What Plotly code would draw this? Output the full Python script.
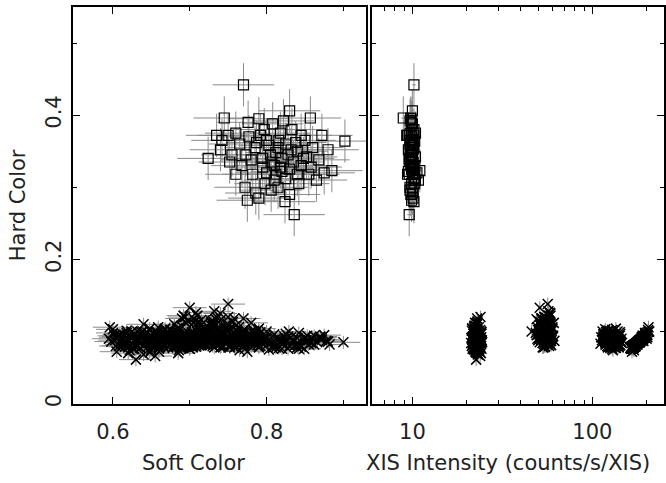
import plotly.graph_objects as go

# ---------------- data ----------------
# Square points (hard state)
sq_soft = [0.770, 0.724, 0.836, 0.902, 0.880, 0.745, 0.830, 0.857, 0.776, 0.750,
           0.760, 0.740, 0.755, 0.772, 0.775, 0.790, 0.810, 0.830, 0.865, 0.875,
           0.885, 0.855, 0.845, 0.820, 0.805, 0.815, 0.825, 0.800, 0.792, 0.785,
           0.795, 0.810, 0.820, 0.835, 0.840, 0.850, 0.860, 0.845, 0.833, 0.818,
           0.808, 0.790, 0.765, 0.780, 0.800, 0.825, 0.840, 0.815, 0.798, 0.782,
           0.768, 0.760, 0.752, 0.735, 0.742, 0.812, 0.828, 0.803, 0.787, 0.838,
           0.852, 0.868, 0.872, 0.822, 0.797, 0.777, 0.806, 0.818, 0.830, 0.842,
           0.812, 0.795, 0.773, 0.816, 0.832, 0.848, 0.858, 0.786, 0.806, 0.824]
sq_hard = [0.442, 0.340, 0.262, 0.364, 0.352, 0.396, 0.406, 0.396, 0.390, 0.372,
           0.375, 0.352, 0.345, 0.300, 0.282, 0.285, 0.310, 0.290, 0.310, 0.320,
           0.323, 0.318, 0.330, 0.340, 0.345, 0.355, 0.360, 0.365, 0.372, 0.355,
           0.340, 0.330, 0.322, 0.335, 0.350, 0.365, 0.355, 0.372, 0.380, 0.375,
           0.388, 0.395, 0.360, 0.338, 0.320, 0.312, 0.318, 0.300, 0.305, 0.318,
           0.330, 0.318, 0.335, 0.372, 0.365, 0.348, 0.345, 0.358, 0.362, 0.362,
           0.342, 0.338, 0.372, 0.392, 0.380, 0.370, 0.335, 0.328, 0.325, 0.305,
           0.318, 0.328, 0.345, 0.365, 0.352, 0.340, 0.328, 0.292, 0.296, 0.280]
sq_rate = [10.2, 9.6, 9.6, 10.3, 10.1, 8.9, 10.0, 9.8, 9.9, 9.4,
           9.7, 9.5, 10.0, 9.7, 9.9, 10.1, 10.4, 9.8, 10.8, 10.6,
           11.0, 10.2, 10.0, 9.9, 9.8, 10.1, 9.7, 10.0, 9.6, 10.2,
           9.9, 10.3, 9.5, 10.1, 9.8, 10.0, 9.7, 10.2, 9.9, 10.4,
           10.0, 9.8, 10.1, 9.6, 10.0, 10.2, 9.4, 10.1, 9.9, 10.3,
           9.8, 10.0, 9.9, 9.3, 9.7, 10.0, 9.9, 10.1, 9.8, 10.0,
           10.4, 9.9, 10.1, 9.7, 10.2, 9.9, 9.7, 10.0, 9.9, 10.3,
           9.6, 10.1, 10.0, 9.9, 10.0, 9.8, 10.1, 10.0, 9.7, 10.2]

# Cross points (soft state), four intensity groups
x22_soft = [0.63, 0.64, 0.66, 0.68, 0.70, 0.72, 0.74, 0.76, 0.78, 0.80,
            0.82, 0.84, 0.86, 0.88, 0.90, 0.65, 0.67, 0.69, 0.71, 0.73,
            0.75, 0.77, 0.79, 0.81, 0.83, 0.85, 0.87, 0.62, 0.645, 0.675,
            0.705, 0.735, 0.765, 0.795, 0.825, 0.855, 0.64, 0.70, 0.76, 0.82,
            0.66, 0.72, 0.78, 0.84, 0.875,
            0.615, 0.628, 0.642, 0.655, 0.668, 0.682, 0.695, 0.708, 0.722, 0.735,
            0.748, 0.762, 0.775, 0.788, 0.802, 0.815, 0.828, 0.842, 0.855, 0.868,
            0.632, 0.658, 0.685, 0.712, 0.738, 0.765, 0.792, 0.818, 0.845, 0.872,
            0.648, 0.675, 0.702, 0.728, 0.755, 0.782, 0.808, 0.835, 0.862, 0.882,
            0.641, 0.653, 0.667, 0.679, 0.691, 0.703, 0.717, 0.729, 0.741, 0.753,
            0.767, 0.779, 0.791, 0.803, 0.817, 0.829, 0.841, 0.853, 0.659, 0.687,
            0.713, 0.739, 0.769, 0.797, 0.823, 0.849, 0.671, 0.733, 0.787, 0.811]
x22_hard = [0.061, 0.068, 0.072, 0.080, 0.090, 0.098, 0.104, 0.094, 0.086, 0.092,
            0.088, 0.084, 0.090, 0.086, 0.085, 0.075, 0.085, 0.095, 0.108, 0.112,
            0.100, 0.082, 0.078, 0.096, 0.080, 0.092, 0.093, 0.070, 0.090, 0.102,
            0.118, 0.088, 0.074, 0.088, 0.097, 0.082, 0.110, 0.076, 0.090, 0.076,
            0.095, 0.082, 0.100, 0.078, 0.095,
            0.084, 0.076, 0.097, 0.066, 0.104, 0.088, 0.112, 0.079, 0.093, 0.120,
            0.085, 0.101, 0.072, 0.095, 0.083, 0.090, 0.076, 0.098, 0.088, 0.091,
            0.100, 0.082, 0.070, 0.094, 0.106, 0.087, 0.099, 0.085, 0.079, 0.089,
            0.071, 0.092, 0.084, 0.114, 0.096, 0.091, 0.080, 0.086, 0.094, 0.082,
            0.095, 0.081, 0.102, 0.088, 0.077, 0.099, 0.086, 0.093, 0.079, 0.104,
            0.091, 0.084, 0.097, 0.075, 0.089, 0.100, 0.082, 0.094, 0.106, 0.078,
            0.090, 0.083, 0.097, 0.087, 0.093, 0.076, 0.084, 0.108, 0.092, 0.085]
x22_rate = [22.6, 23.1, 22.4, 22.9, 23.3, 22.7, 22.2, 23.0, 22.5, 22.8,
            23.4, 22.3, 22.9, 22.6, 23.1, 22.0, 22.7, 23.5, 22.4, 22.8,
            23.0, 22.5, 21.8, 23.2, 22.9, 22.3, 22.6, 23.0, 22.7, 22.1,
            22.9, 23.6, 22.4, 22.8, 23.3, 22.5, 22.9, 21.9, 23.1, 22.6,
            22.3, 23.2, 22.7, 22.5, 23.0,
            21.2, 24.2, 22.0, 23.8, 21.5, 24.0, 22.3, 23.6, 21.8, 23.9,
            24.4, 21.4, 23.7, 22.1, 24.1, 21.7, 23.5, 22.2, 24.3, 21.3,
            23.3, 21.6, 24.0, 22.4, 23.4, 21.9, 24.2, 22.0, 23.8, 21.5,
            22.6, 24.1, 21.7, 23.0, 22.2, 23.7, 21.4, 24.3, 22.8, 21.9,
            22.9, 21.6, 23.8, 22.2, 23.4, 21.9, 24.0, 22.5, 23.1, 21.5,
            23.9, 22.7, 21.8, 23.5, 22.4, 24.1, 21.7, 23.2, 22.0, 23.7,
            21.4, 22.8, 24.2, 22.3, 23.0, 21.6, 23.6, 22.1, 23.3, 21.8]

x55_soft = [0.700, 0.750, 0.680, 0.690, 0.710, 0.720, 0.730, 0.740, 0.760, 0.770,
            0.780, 0.790, 0.800, 0.665, 0.675, 0.685, 0.695, 0.705, 0.715, 0.725,
            0.735, 0.745, 0.755, 0.765, 0.775, 0.785, 0.795, 0.700, 0.720, 0.740,
            0.760, 0.780, 0.710, 0.730, 0.750, 0.770, 0.690, 0.725, 0.745, 0.765,
            0.705, 0.735, 0.755, 0.715, 0.680,
            0.672, 0.684, 0.696, 0.708, 0.718, 0.728, 0.738, 0.748, 0.758, 0.768,
            0.778, 0.788, 0.798, 0.678, 0.692, 0.704, 0.714, 0.724, 0.734, 0.744,
            0.754, 0.764, 0.774, 0.784, 0.794, 0.688, 0.702, 0.716, 0.732, 0.746,
            0.762, 0.776, 0.790, 0.698, 0.712, 0.726, 0.742, 0.756, 0.772, 0.786,
            0.681, 0.689, 0.697, 0.707, 0.713, 0.721, 0.731, 0.739, 0.747, 0.757,
            0.763, 0.771, 0.781, 0.789, 0.686, 0.699, 0.711, 0.723, 0.736, 0.749,
            0.761, 0.774, 0.783, 0.694, 0.717, 0.741, 0.766, 0.727, 0.752, 0.705]
x55_hard = [0.133, 0.138, 0.110, 0.118, 0.122, 0.105, 0.115, 0.125, 0.108, 0.118,
            0.112, 0.104, 0.100, 0.095, 0.102, 0.088, 0.098, 0.092, 0.087, 0.096,
            0.084, 0.090, 0.094, 0.086, 0.093, 0.098, 0.090, 0.080, 0.082, 0.078,
            0.085, 0.080, 0.100, 0.108, 0.120, 0.101, 0.084, 0.090, 0.103, 0.095,
            0.112, 0.097, 0.088, 0.116, 0.092,
            0.090, 0.104, 0.085, 0.126, 0.095, 0.112, 0.088, 0.102, 0.118, 0.092,
            0.098, 0.086, 0.094, 0.100, 0.122, 0.089, 0.108, 0.081, 0.117, 0.096,
            0.083, 0.106, 0.090, 0.101, 0.084, 0.078, 0.096, 0.110, 0.128, 0.087,
            0.099, 0.091, 0.079, 0.114, 0.083, 0.104, 0.093, 0.113, 0.082, 0.097,
            0.097, 0.108, 0.091, 0.115, 0.101, 0.088, 0.110, 0.096, 0.106, 0.099,
            0.091, 0.103, 0.094, 0.087, 0.105, 0.093, 0.113, 0.098, 0.102, 0.111,
            0.095, 0.089, 0.100, 0.120, 0.092, 0.117, 0.097, 0.109, 0.104, 0.086]
x55_rate = [51.0, 56.5, 54.0, 52.5, 57.0, 55.5, 53.0, 58.5, 54.5, 56.0,
            52.0, 55.0, 57.5, 49.0, 53.5, 56.0, 54.5, 51.5, 58.0, 55.0,
            53.0, 57.0, 54.0, 56.5, 52.5, 55.5, 59.0, 54.0, 56.0, 53.5,
            55.0, 57.5, 46.0, 52.0, 54.5, 56.0, 53.0, 58.5, 55.5, 51.5,
            57.0, 54.0, 55.5, 52.5, 59.5,
            49.5, 60.0, 51.0, 58.0, 53.5, 61.0, 50.0, 57.5, 52.0, 59.5,
            48.5, 56.0, 60.5, 50.5, 58.5, 52.5, 55.0, 59.0, 49.0, 57.0,
            54.0, 60.0, 51.5, 56.5, 58.0, 53.0, 50.0, 55.5, 57.0, 61.5,
            52.0, 59.0, 54.5, 50.5, 56.5, 53.5, 60.5, 51.0, 58.5, 55.0,
            53.0, 57.5, 50.5, 55.0, 59.5, 52.0, 56.0, 54.5, 49.5, 58.0,
            53.5, 56.5, 51.5, 59.0, 55.5, 52.5, 57.0, 54.0, 50.0, 58.5,
            55.0, 52.5, 56.5, 54.0, 57.5, 53.0, 55.5, 51.0, 58.0, 56.0]

x130_soft = [0.600, 0.610, 0.615, 0.620, 0.625, 0.630, 0.635, 0.640, 0.645, 0.650,
             0.655, 0.660, 0.665, 0.670, 0.675, 0.680, 0.685, 0.690, 0.695, 0.700,
             0.705, 0.710, 0.715, 0.720, 0.725, 0.730, 0.740, 0.750, 0.760, 0.770,
             0.780, 0.612, 0.628, 0.642, 0.658, 0.672, 0.688, 0.702, 0.718, 0.735,
             0.622, 0.648, 0.668, 0.692, 0.745,
             0.604, 0.614, 0.624, 0.634, 0.644, 0.654, 0.664, 0.674, 0.684, 0.694,
             0.704, 0.714, 0.724, 0.734, 0.744, 0.754, 0.764, 0.608, 0.618, 0.632,
             0.646, 0.662, 0.678, 0.694, 0.708, 0.722, 0.738, 0.752, 0.768, 0.616,
             0.636, 0.652, 0.666, 0.682, 0.698, 0.712, 0.728, 0.742, 0.626, 0.656,
             0.603, 0.609, 0.617, 0.623, 0.629, 0.637, 0.643, 0.649, 0.657, 0.663,
             0.669, 0.677, 0.683, 0.689, 0.697, 0.703, 0.709, 0.717, 0.723, 0.731,
             0.737, 0.743, 0.749, 0.606, 0.621, 0.639, 0.653, 0.671, 0.687, 0.701,
             0.719, 0.733, 0.612, 0.631, 0.647, 0.661, 0.679, 0.693, 0.711, 0.727]
x130_hard = [0.103, 0.085, 0.095, 0.078, 0.100, 0.088, 0.092, 0.080, 0.098, 0.086,
             0.094, 0.076, 0.090, 0.084, 0.101, 0.082, 0.096, 0.088, 0.079, 0.092,
             0.085, 0.099, 0.081, 0.090, 0.094, 0.087, 0.083, 0.092, 0.086, 0.080,
             0.089, 0.090, 0.080, 0.091, 0.097, 0.078, 0.092, 0.087, 0.095, 0.082,
             0.074, 0.104, 0.088, 0.083, 0.097,
             0.092, 0.082, 0.099, 0.087, 0.077, 0.095, 0.084, 0.091, 0.100, 0.086,
             0.080, 0.093, 0.088, 0.097, 0.079, 0.090, 0.085, 0.080, 0.101, 0.089,
             0.085, 0.093, 0.077, 0.089, 0.096, 0.083, 0.091, 0.078, 0.094, 0.087,
             0.096, 0.083, 0.079, 0.094, 0.086, 0.081, 0.099, 0.088, 0.092, 0.090,
             0.088, 0.096, 0.083, 0.093, 0.080, 0.099, 0.086, 0.092, 0.082, 0.097,
             0.089, 0.094, 0.079, 0.091, 0.085, 0.098, 0.088, 0.083, 0.096, 0.090,
             0.086, 0.093, 0.089, 0.094, 0.087, 0.100, 0.090, 0.085, 0.081, 0.095,
             0.089, 0.084, 0.097, 0.091, 0.086, 0.081, 0.098, 0.093, 0.087, 0.102]
x130_rate = [118, 125, 131, 122, 138, 128, 116, 134, 126, 121,
             142, 129, 119, 136, 124, 131, 115, 127, 140, 123,
             133, 120, 129, 145, 126, 117, 132, 124, 137, 128,
             121, 130, 139, 114, 127, 134, 122, 143, 125, 119,
             130, 135, 123, 128, 126,
             112, 141, 127, 119, 135, 124, 146, 116, 130, 138,
             121, 128, 113, 143, 125, 133, 118, 136, 122, 129,
             144, 115, 126, 139, 120, 131, 117, 140, 127, 123,
             134, 111, 128, 137, 124, 142, 119, 130, 126, 132,
             124, 131, 119, 137, 127, 142, 121, 129, 134, 116,
             139, 125, 131, 122, 144, 128, 118, 135, 126, 140,
             120, 132, 127, 129, 137, 114, 125, 133, 141, 123,
             130, 119, 128, 136, 122, 143, 126, 117, 134, 129]

x185_soft = [0.595, 0.596, 0.605, 0.618, 0.632, 0.638, 0.644, 0.652, 0.660, 0.668,
             0.676, 0.684, 0.692, 0.700, 0.708, 0.716, 0.724, 0.732, 0.742, 0.752,
             0.762, 0.772, 0.782, 0.792, 0.802, 0.812, 0.822, 0.832, 0.842, 0.852,
             0.862, 0.870, 0.878, 0.626, 0.656, 0.686, 0.716, 0.746, 0.776, 0.806,
             0.836, 0.866, 0.640, 0.700, 0.760,
             0.600, 0.612, 0.622, 0.636, 0.648, 0.662, 0.672, 0.682, 0.696, 0.706,
             0.720, 0.730, 0.738, 0.748, 0.758, 0.768, 0.778, 0.788, 0.798, 0.808,
             0.818, 0.828, 0.838, 0.848, 0.858, 0.604, 0.628, 0.650, 0.674, 0.698,
             0.722, 0.744, 0.770, 0.794, 0.816, 0.840, 0.615, 0.666, 0.714, 0.762,
             0.598, 0.608, 0.620, 0.630, 0.642, 0.654, 0.664, 0.678, 0.690, 0.702,
             0.712, 0.726, 0.736, 0.752, 0.766, 0.780, 0.796, 0.812, 0.826, 0.844,
             0.602, 0.616, 0.634, 0.646, 0.658, 0.670, 0.688, 0.704, 0.718, 0.734,
             0.756, 0.774, 0.790, 0.804, 0.820, 0.834, 0.850, 0.624, 0.660, 0.694]
x185_hard = [0.090, 0.106, 0.072, 0.098, 0.080, 0.094, 0.086, 0.092, 0.078, 0.096,
             0.084, 0.090, 0.080, 0.094, 0.087, 0.082, 0.092, 0.078, 0.088, 0.080,
             0.090, 0.076, 0.085, 0.080, 0.088, 0.078, 0.084, 0.092, 0.076, 0.088,
             0.082, 0.092, 0.087, 0.076, 0.100, 0.074, 0.097, 0.086, 0.093, 0.084,
             0.080, 0.085, 0.088, 0.076, 0.079,
             0.098, 0.082, 0.092, 0.077, 0.088, 0.085, 0.094, 0.079, 0.090, 0.083,
             0.096, 0.080, 0.087, 0.091, 0.078, 0.084, 0.092, 0.081, 0.089, 0.077,
             0.086, 0.093, 0.082, 0.088, 0.084, 0.080, 0.095, 0.079, 0.090, 0.083,
             0.087, 0.100, 0.081, 0.089, 0.077, 0.091, 0.086, 0.080, 0.102, 0.084,
             0.086, 0.093, 0.080, 0.089, 0.097, 0.083, 0.091, 0.086, 0.080, 0.095,
             0.088, 0.084, 0.092, 0.081, 0.089, 0.086, 0.083, 0.090, 0.087, 0.081,
             0.094, 0.079, 0.089, 0.084, 0.099, 0.087, 0.092, 0.078, 0.088, 0.094,
             0.085, 0.082, 0.091, 0.086, 0.083, 0.088, 0.085, 0.091, 0.081, 0.096]
x185_rate = [200, 205, 166, 196, 172, 190, 180, 188, 170, 198,
             178, 186, 168, 192, 182, 176, 194, 167, 184, 172,
             190, 165, 182, 174, 188, 170, 180, 196, 168, 186,
             178, 202, 192, 164, 206, 170, 198, 180, 195, 176,
             174, 184, 188, 168, 172,
             199, 172, 190, 166, 184, 178, 196, 168, 188, 174,
             201, 167, 182, 194, 164, 176, 192, 170, 186, 163,
             180, 197, 173, 185, 179, 169, 202, 165, 189, 175,
             183, 207, 171, 187, 163, 193, 181, 168, 204, 177,
             184, 194, 170, 186, 200, 176, 192, 182, 168, 197,
             185, 178, 191, 171, 188, 180, 175, 189, 183, 170,
             196, 166, 187, 177, 203, 181, 193, 167, 186, 198,
             179, 172, 190, 181, 176, 185, 179, 189, 169, 199]

# typical 1-sigma errors per group
sq_soft_err, sq_hard_err, sq_rate_pct = 0.04, 0.03, 2.5
x_soft_err, x_hard_err, x_rate_pct = 0.022, 0.009, 2.5

x_soft = x22_soft + x55_soft + x130_soft + x185_soft
x_hard = x22_hard + x55_hard + x130_hard + x185_hard
x_rate = x22_rate + x55_rate + x130_rate + x185_rate

# ---------------- figure ----------------
W, H = 666, 483
FONT = "DejaVu Sans"
TXT = "#222222"
ERR = "#8a8a8a"

fig = go.Figure()


def eb(val, kind="constant"):
    return dict(type=kind, value=val, color=ERR, thickness=1, width=0)


cross = dict(symbol="x-thin-open", size=10, color="black",
             line=dict(color="black", width=1.5))
square = dict(symbol="square-open", size=10, color="black",
              line=dict(color="black", width=1.2))

# left panel
fig.add_trace(go.Scatter(x=x_soft, y=x_hard, mode="markers", xaxis="x", yaxis="y",
                         marker=cross, error_x=eb(x_soft_err), error_y=eb(x_hard_err),
                         showlegend=False))
fig.add_trace(go.Scatter(x=sq_soft, y=sq_hard, mode="markers", xaxis="x", yaxis="y",
                         marker=square, error_x=eb(sq_soft_err), error_y=eb(sq_hard_err),
                         showlegend=False))
# right panel
fig.add_trace(go.Scatter(x=x_rate, y=x_hard, mode="markers", xaxis="x2", yaxis="y2",
                         marker=cross, error_x=eb(x_rate_pct, "percent"),
                         error_y=eb(x_hard_err), showlegend=False))
fig.add_trace(go.Scatter(x=sq_rate, y=sq_hard, mode="markers", xaxis="x2", yaxis="y2",
                         marker=square, error_x=eb(sq_rate_pct, "percent"),
                         error_y=eb(sq_hard_err), showlegend=False))

ax_common = dict(showline=True, linecolor="black", linewidth=2, mirror="ticks",
                 ticks="inside", ticklen=7, tickwidth=1, tickcolor="black",
                 showgrid=False, zeroline=False,
                 tickfont=dict(family=FONT, size=21, color=TXT))

y0, y1 = 1 - 407 / H, 1 - 7 / H

fig.update_layout(
    width=W, height=H, margin=dict(l=0, r=0, t=0, b=0),
    paper_bgcolor="white", plot_bgcolor="white",
    xaxis=dict(domain=[73 / W, 367 / W], range=[0.548, 0.93],
               tickmode="array", tickvals=[0.6, 0.8], ticktext=["0.6", "0.8"],
               minor=dict(ticks="inside", ticklen=4, tickcolor="black",
                          tickvals=[0.7, 0.9], showgrid=False),
               ticklabelstandoff=8, anchor="y", **ax_common),
    yaxis=dict(domain=[y0, y1], range=[0, 0.55],
               tickmode="array", tickvals=[0, 0.2, 0.4], ticktext=["0", "0.2", "0.4"],
               tickangle=-90,
               minor=dict(ticks="inside", ticklen=4, tickcolor="black",
                          tickvals=[0.1, 0.3, 0.5], showgrid=False),
               ticklabelstandoff=1, anchor="x", **ax_common),
    xaxis2=dict(domain=[373 / W, 665 / W], type="log", range=[0.778, 2.398],
                tickmode="array", tickvals=[10, 100], ticktext=["10", "100"],
                minor=dict(ticks="inside", ticklen=4, tickcolor="black",
                           tickvals=[6, 7, 8, 9, 20, 30, 40, 50, 60, 70, 80, 90, 200],
                           showgrid=False),
                ticklabelstandoff=8, anchor="y2", **ax_common),
    yaxis2=dict(domain=[y0, y1], range=[0, 0.55], matches="y",
                tickmode="array", tickvals=[0, 0.2, 0.4], showticklabels=False,
                minor=dict(ticks="inside", ticklen=4, tickcolor="black",
                           tickvals=[0.1, 0.3, 0.5], showgrid=False),
                anchor="x2", **ax_common),
)

title_font = dict(family=FONT, size=21, color=TXT)
fig.add_annotation(text="Soft Color", xref="paper", yref="paper",
                   x=194 / W, y=1 - 467 / H, showarrow=False, font=title_font,
                   xanchor="center", yanchor="middle")
fig.add_annotation(text="XIS Intensity (counts/s/XIS)", xref="paper", yref="paper",
                   x=509 / W, y=1 - 467 / H, showarrow=False, font=title_font,
                   xanchor="center", yanchor="middle")
fig.add_annotation(text="Hard Color", xref="paper", yref="paper",
                   x=18 / W, y=1 - 207 / H, showarrow=False, font=title_font,
                   textangle=-90, xanchor="center", yanchor="middle")

fig.write_html("out.html")
